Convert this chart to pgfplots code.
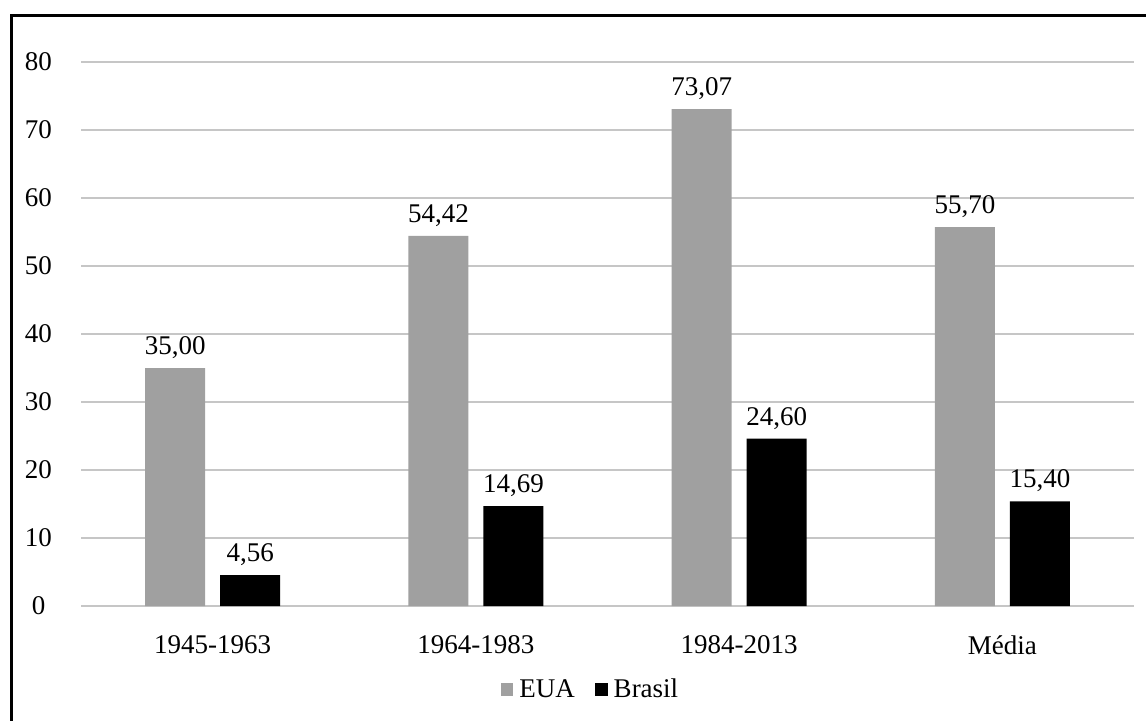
\documentclass[border=0pt]{standalone}
\usepackage{fontspec}
\setmainfont{Liberation Serif}
\usepackage{pgfplots}
\pgfplotsset{compat=1.18}
\definecolor{barGray}{RGB}{160,160,160}
\definecolor{gridGray}{RGB}{198,198,198}
\newcommand{\cf}{\fontsize{13.5}{16}\selectfont}
\begin{document}
\begin{tikzpicture}
\useasboundingbox (0,0) rectangle (573pt,360pt);
\draw[line width=1.5pt] (5.5pt,-5pt) -- (5.5pt,352.25pt) -- (580pt,352.25pt);
\begin{axis}[
  at={(40.5pt,57pt)}, anchor=south west,
  scale only axis, width=526.5pt, height=272pt,
  ymin=0, ymax=80, xmin=-0.5, xmax=3.5,
  ytick={0,10,...,80},
  xtick={0,1,2,3},
  xticklabels={1945-1963,1964-1983,1984-2013,Média},
  axis line style={draw=none},
  major tick length=0pt,
  ymajorgrids, grid style={gridGray, line width=1.2pt},
  /pgf/number format/assume math mode=true,
  ticklabel style={font=\cf},
  y tick label style={anchor=center, xshift=-21.25pt},
  x tick label style={anchor=center, yshift=-19.5pt},
  ybar, bar width=30pt,
  nodes near coords={\pgfmathprintnumber[fixed, fixed zerofill, precision=2, use comma, assume math mode=true]{\pgfplotspointmeta}},
  nodes near coords style={font=\cf, anchor=south, inner sep=0pt, yshift=4.5pt, black},
  legend style={at={(0.4857,-0.154)}, anchor=center, draw=none, font=\cf,
    legend columns=2, /tikz/every even column/.append style={column sep=7pt},
    inner sep=0pt, nodes={inner sep=3pt}},
  legend image code/.code={\fill[#1] (0pt,-3.2pt) rectangle (6.4pt,3.2pt);},
  clip=false,
]
\addplot[fill=barGray, draw=none, bar shift=-18.75pt] coordinates {(0,35.00) (1,54.42) (2,73.07) (3,55.70)};
\addplot[fill=black, draw=none, bar shift=18.75pt] coordinates {(0,4.56) (1,14.69) (2,24.60) (3,15.40)};
\legend{EUA,Brasil}
\end{axis}
\end{tikzpicture}
\end{document}
